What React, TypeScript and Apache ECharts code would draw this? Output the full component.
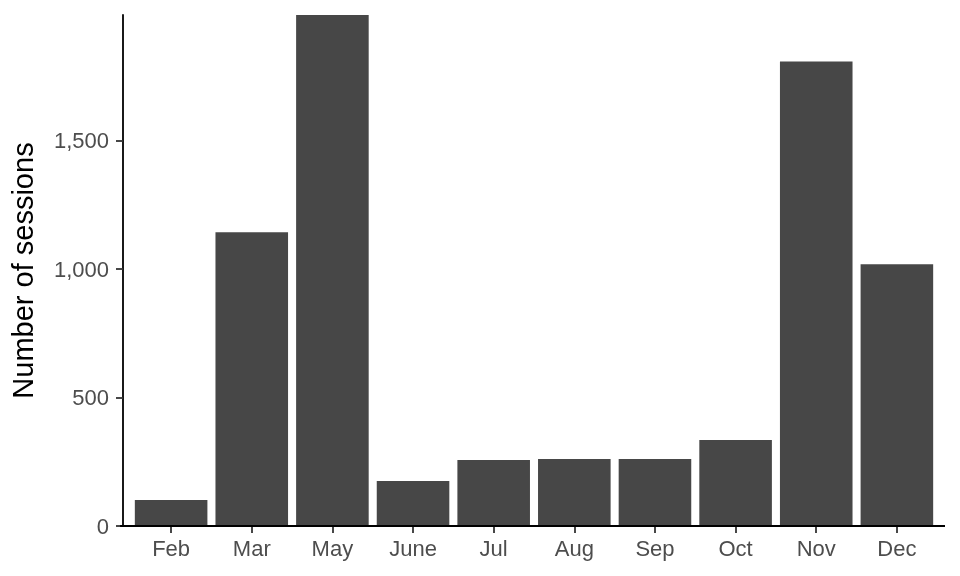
import React, { useEffect, useRef } from "react";
import * as echarts from "echarts";

const months = ["Feb", "Mar", "May", "June", "Jul", "Aug", "Sep", "Oct", "Nov", "Dec"];
const sessions = [101, 1144, 1990, 175, 257, 261, 261, 335, 1809, 1019];
const yTicks = [0, 500, 1000, 1500];

export default function App() {
  const ref = useRef<HTMLDivElement>(null);
  useEffect(() => {
    const chart = echarts.init(ref.current!, null, { renderer: "svg" });
    const font = "Liberation Sans, Arial, sans-serif";
    chart.setOption({
      animation: false,
      grid: { left: 128.8, right: 22.8, top: 15, bottom: 50 },
      xAxis: {
        type: "category",
        data: months,
        axisLine: { show: false },
        axisTick: { show: true, alignWithLabel: true, length: 7, lineStyle: { color: "#333", width: 1.8 } },
        axisLabel: { color: "#4D4D4D", fontSize: 22, fontFamily: font, margin: 11 },
      },
      yAxis: {
        type: "value",
        min: 0,
        max: 1990,
        interval: 500,
        offset: 7.8,
        name: "Number of sessions",
        nameLocation: "middle",
        nameGap: 86,
        nameTextStyle: { color: "#000", fontSize: 29, fontFamily: font },
        axisLine: { show: true, lineStyle: { color: "#000", width: 1.8 } },
        axisTick: { show: true, length: 7, lineStyle: { color: "#333", width: 1.8 } },
        axisLabel: {
          color: "#4D4D4D",
          fontSize: 22,
          fontFamily: font,
          margin: 14,
          showMaxLabel: false,
          formatter: (v: number) => (yTicks.includes(v) ? v.toLocaleString("en-US") : ""),
        },
        splitLine: { show: false },
      },
      graphic: [
        {
          type: "line",
          shape: { x1: 120.1, y1: 526, x2: 945, y2: 526 },
          style: { stroke: "#000", lineWidth: 1.8 },
          z: 10,
        },
      ],
      series: [
        {
          type: "bar",
          data: sessions,
          barWidth: "90%",
          itemStyle: { color: "#474747" },
        },
      ],
    });
    return () => chart.dispose();
  }, []);
  return <div ref={ref} style={{ position: "fixed", left: 0, top: 0, width: 960, height: 576 }} />;
}
